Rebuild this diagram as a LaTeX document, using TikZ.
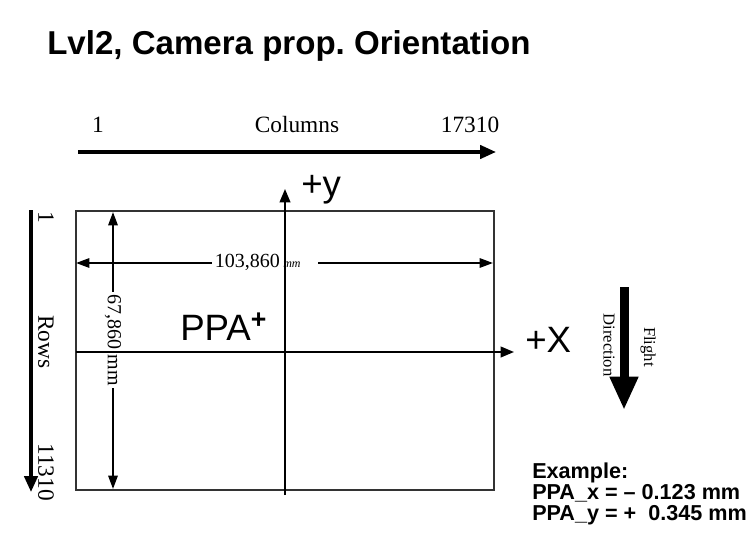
\documentclass[tikz,border=0pt]{standalone}
\usepackage{fontspec}
\setmainfont{Liberation Serif}
\newfontfamily\headfont{Liberation Sans}
\usetikzlibrary{arrows.meta}
\frenchspacing
\tikzset{
  title/.style={font=\headfont\bfseries\fontsize{24.8}{24.8}\selectfont,inner sep=0pt},
  serif/.style={font=\fontsize{17.5}{17.5}\selectfont,inner sep=0pt},
  dimlabel/.style={font=\fontsize{15}{15}\selectfont,inner sep=2pt},
  small/.style={font=\fontsize{12.5}{12.5}\selectfont,inner sep=0pt},
  sans/.style={font=\headfont\fontsize{27.5}{27.5}\selectfont,inner sep=0pt},
  exblock/.style={font=\headfont\bfseries\fontsize{16.2}{15.6}\selectfont,inner sep=0pt,align=left},
  bigarrow/.style={line width=2.6pt,-{Triangle[length=12pt,width=10pt]}},
  axisline/.style={line width=1.4pt,-{Triangle[length=10pt,width=8pt]}},
  dimarrow/.style={line width=1.5pt,-{Triangle[length=10pt,width=7pt]}},
  frame/.style={line width=1.1pt,draw=black!80}
}
\begin{document}
\begin{tikzpicture}[x=0.75pt,y=-0.75pt]
  \useasboundingbox (0,0) rectangle (756,542);
  \node[title,anchor=base west] (title) at (47,55) {Lvl2, Camera prop. Orientation};

  \node[serif,anchor=base] (col1) at (98,132) {1};
  \node[serif,anchor=base] (cols) at (297,132) {Columns};
  \node[serif,anchor=base] (col2) at (470,132) {17310};
  \coordinate (cs) at (78,152);
  \coordinate (ce) at (496,152);
  \draw[bigarrow] (cs) -- (ce);

  \node[serif,rotate=-90] (row1) at (46,217) {1};
  \node[serif,rotate=-90] (rows) at (46,342) {Rows};
  \node[serif,rotate=-90] (row2) at (46,472) {11310};
  \coordinate (rs) at (31,210);
  \coordinate (re) at (31,492);
  \draw[bigarrow] (rs) -- (re);

  \coordinate (f1) at (76,211);
  \coordinate (f2) at (494,490);
  \draw[frame] (f1) rectangle (f2);

  \coordinate (xs) at (76,352);
  \coordinate (xe) at (514,352);
  \coordinate (ys) at (285,495);
  \coordinate (ye) at (285,189);
  \draw[axisline] (xs) -- (xe);
  \draw[axisline] (ys) -- (ye);
  \node[sans,anchor=base west] (plusy) at (301,196) {+y};
  \node[sans,anchor=base west] (plusx) at (525,352) {+X};
  \node[sans,anchor=base west] (ppa) at (180,340)
    {PPA\raisebox{9pt}{\bfseries\fontsize{20}{20}\selectfont +}};

  \node[dimlabel,anchor=base west] (wlabel) at (212,267)
    {103,860\,{\itshape\fontsize{9}{9}\selectfont mm}};
  \coordinate (wl) at (76,263);
  \coordinate (wr) at (493,263);
  \begin{scope}[line width=2.2pt]
    \draw[dimarrow] (wl -| wlabel.west) -- (wl);
    \draw[dimarrow] ([xshift=11pt]wl -| wlabel.east) -- (wr);
  \end{scope}

  \node[dimlabel,rotate=-90] (hlabel) at (113,340) {67,860 mm};
  \coordinate (ht) at (113,212);
  \coordinate (hb) at (113,489);
  \draw[dimarrow] (hlabel.west) -- (ht);
  \draw[dimarrow] (hlabel.east) -- (hb);

  \coordinate (fs) at (624,287);
  \coordinate (fe) at (624,410);
  \draw[line width=6.75pt,-{Triangle[length=25pt,width=20pt]}] (fs) -- (fe);
  \node[small,rotate=-90] (dir) at (609,345) {Direction};
  \node[small,rotate=-90] (flight) at (648,347) {Flight};

  \node[exblock,anchor=north west] (example) at (532,463)
    {Example:\\PPA\_x = – 0.123 mm\\PPA\_y = +\ \ 0.345 mm};
\end{tikzpicture}
\end{document}
